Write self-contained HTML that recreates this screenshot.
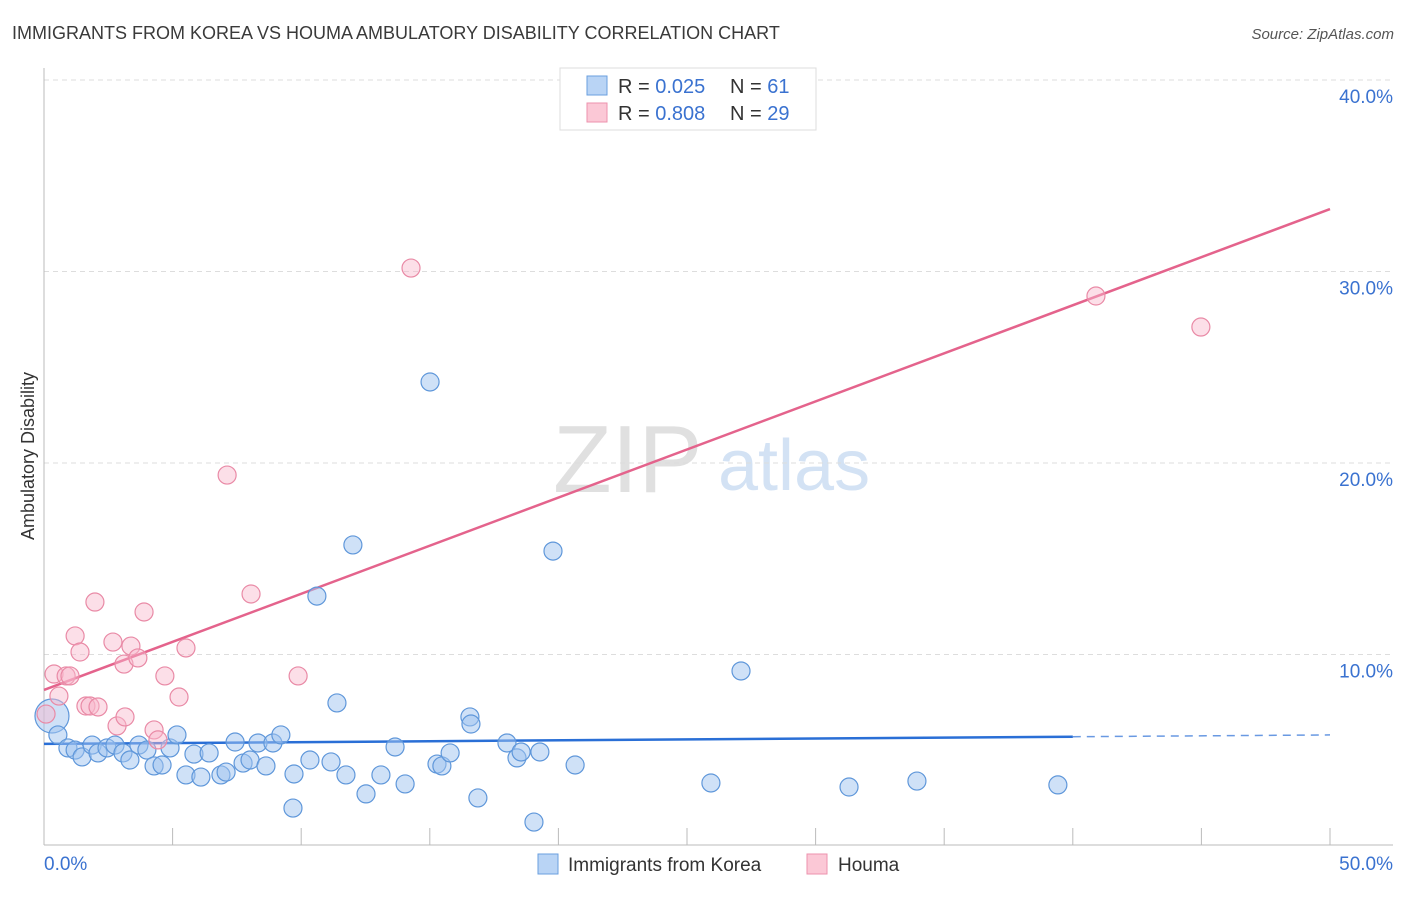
<!DOCTYPE html>
<html><head><meta charset="utf-8">
<style>
body{margin:0;background:#fff;font-family:"Liberation Sans",sans-serif;}
svg text{font-family:"Liberation Sans",sans-serif;}
</style></head>
<body>
<svg id="chart" width="1406" height="892" xmlns="http://www.w3.org/2000/svg">
<text x="12" y="39" font-size="18" fill="#3a3a3a">IMMIGRANTS FROM KOREA VS HOUMA AMBULATORY DISABILITY CORRELATION CHART</text>
<text x="1394" y="39" font-size="15" fill="#555" text-anchor="end" font-style="italic">Source: ZipAtlas.com</text>
<text x="553" y="492" font-size="96" fill="#ddd" font-family="Liberation Serif" opacity="0.9">ZIP</text>
<text x="718" y="490" font-size="72" fill="#c9dcf2" opacity="0.8">atlas</text>
<text transform="translate(34,456) rotate(-90)" font-size="18" fill="#333" text-anchor="middle">Ambulatory Disability</text>
<g id="grid"></g><g id="axes"></g><g id="lines"></g><g id="points"></g>
<g>
<rect x="560" y="68" width="256" height="62" fill="#fff" stroke="#ddd"/>
<rect x="587" y="76" width="20" height="19" fill="#b9d4f5" stroke="#6a9fdf"/>
<rect x="587" y="103" width="20" height="19" fill="#fbc8d6" stroke="#ec92ad"/>
<text x="618" y="93" font-size="20" fill="#333">R = <tspan fill="#3a72d0">0.025</tspan></text>
<text x="730" y="93" font-size="20" fill="#333">N = <tspan fill="#3a72d0"> 61</tspan></text>
<text x="618" y="120" font-size="20" fill="#333">R = <tspan fill="#3a72d0">0.808</tspan></text>
<text x="730" y="120" font-size="20" fill="#333">N = <tspan fill="#3a72d0">29</tspan></text>
</g>
<g>
<rect x="538" y="854" width="20" height="20" fill="#b9d4f5" stroke="#6a9fdf"/>
<text x="568" y="871" font-size="19" fill="#333">Immigrants from Korea</text>
<rect x="807" y="854" width="20" height="20" fill="#fbc8d6" stroke="#ec92ad"/>
<text x="838" y="871" font-size="19" fill="#333">Houma</text>
</g>
</svg>
<script>
const yTicks=[10,20,30,40];
const yTickLabels=["10.0%","20.0%","30.0%","40.0%"];
const xTicks=[0,5,10,15,20,25,30,35,40,45,50];
const koreaX=[0.31,0.54,0.93,1.21,1.48,1.87,2.10,2.45,2.76,3.07,3.34,3.69,4.00,4.28,4.59,4.90,5.17,5.52,5.83,6.10,6.42,6.88,7.08,7.43,7.74,8.01,8.32,8.63,8.90,9.21,9.72,9.68,10.34,10.61,11.16,11.39,11.74,12.01,12.52,13.10,13.65,14.04,15.01,15.28,15.47,15.79,16.56,16.60,16.87,18.00,18.39,18.55,19.05,19.28,19.79,20.65,25.93,27.10,31.30,33.94,39.42];
const koreaY=[6.79,5.80,5.12,5.01,4.65,5.27,4.86,5.12,5.27,4.86,4.49,5.27,5.01,4.18,4.23,5.12,5.80,3.71,4.80,3.60,4.86,3.71,3.86,5.43,4.33,4.49,5.38,4.18,5.38,5.80,3.76,1.98,4.49,13.05,4.39,7.47,3.71,15.72,2.72,3.71,5.17,3.24,24.23,4.28,4.18,4.86,6.74,6.37,2.51,5.38,4.60,4.91,1.25,4.91,15.40,4.23,3.29,9.14,3.08,3.39,3.19];
const houmaX=[0.08,0.39,0.58,0.86,1.01,1.21,1.40,1.63,1.79,1.98,2.10,2.68,2.84,3.11,3.15,3.38,3.65,3.89,4.28,4.43,4.70,5.25,5.52,7.12,8.05,9.88,14.27,40.90,44.98];
const houmaY=[6.89,8.98,7.83,8.88,8.88,10.97,10.13,7.31,7.31,12.74,7.26,10.65,6.27,9.50,6.74,10.44,9.82,12.22,6.06,5.54,8.88,7.78,10.34,19.37,13.16,8.88,30.18,28.72,27.10];
const koreaTrend=[5.33,5.80];
const houmaTrend=[8.15,33.26];
const NS="http://www.w3.org/2000/svg";
const sx=v=>44+v*25.72;
const sy=v=>846-v*19.15;
function mk(tag,attrs,parent){const e=document.createElementNS(NS,tag);for(const k in attrs)e.setAttribute(k,attrs[k]);document.getElementById(parent).appendChild(e);return e;}
yTicks.forEach((t,i)=>{
 const g=mk('line',{x1:44,x2:1393,y1:sy(t),y2:sy(t),stroke:'#ddd','stroke-dasharray':'5,4'},'grid');
 
 
 const l=mk('text',{x:1393,y:sy(t)+23,'font-size':19,fill:'#3a72d0','text-anchor':'end'},'axes');
 l.textContent=yTickLabels[i];
 
 
});
const ax=mk('line',{x1:44,x2:44,y1:68,y2:845,stroke:'#bbb'},'axes');


const bx=mk('line',{x1:44,x2:1393,y1:845,y2:845,stroke:'#bbb'},'axes');


xTicks.forEach(t=>{
 const tk=mk('line',{x1:sx(t),x2:sx(t),y1:828,y2:845,stroke:'#bbb'},'axes');
 
 
});
const x0=mk('text',{x:44,y:870,'font-size':19,fill:'#3a72d0'},'axes');x0.textContent='0.0%';


const x1=mk('text',{x:1393,y:870,'font-size':19,fill:'#3a72d0','text-anchor':'end'},'axes');x1.textContent='50.0%';


koreaX.forEach((x,i)=>{
 const c=mk('circle',{cx:sx(x),cy:sy(koreaY[i]),r:i===0?17:9,fill:'rgba(160,196,240,0.5)',stroke:'#5f97da','stroke-width':1.2},'points');
 
 
});
houmaX.forEach((x,i)=>{
 const c=mk('circle',{cx:sx(x),cy:sy(houmaY[i]),r:9,fill:'rgba(248,185,205,0.45)',stroke:'#e98aa6','stroke-width':1.2},'points');
 
 
});
const hl=mk('line',{x1:sx(0),y1:sy(houmaTrend[0]),x2:sx(50),y2:sy(houmaTrend[1]),stroke:'#e4638c','stroke-width':2.5},'lines');


const kAt=x=>koreaTrend[0]+(koreaTrend[1]-koreaTrend[0])*x/50;
const kl=mk('line',{x1:sx(0),y1:sy(kAt(0)),x2:sx(40),y2:sy(kAt(40)),stroke:'#2a6fd6','stroke-width':2.5},'lines');


const kd=mk('line',{x1:sx(40),y1:sy(kAt(40)),x2:sx(50),y2:sy(kAt(50)),stroke:'#2a6fd6','stroke-width':1.5,'stroke-dasharray':'8,6',opacity:0.7},'lines');


</script>
</body></html>
